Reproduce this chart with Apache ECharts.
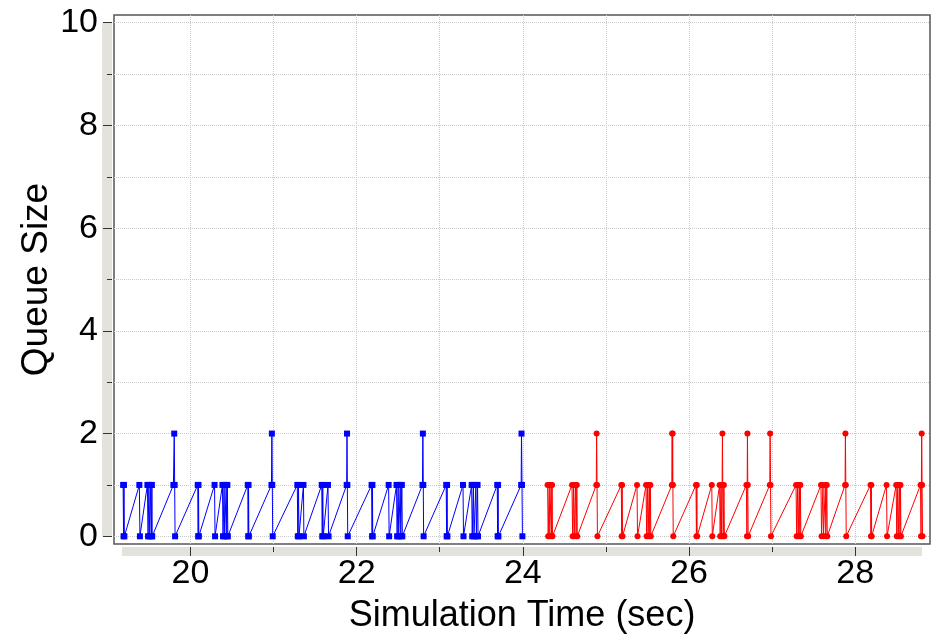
<!DOCTYPE html>
<html>
<head>
<meta charset="utf-8">
<script src="https://cdn.jsdelivr.net/npm/echarts@6/dist/echarts.min.js"></script>
<style>
  html, body { margin: 0; padding: 0; background: #fff; }
  #main { width: 933px; height: 637px; }
</style>
</head>
<body>
<div id="main"></div>
<script>
// queue trace, first link (blue)
let blueTime = [
  19.190, 19.195, 19.200, 19.205,
  19.385, 19.392,
  19.482, 19.490, 19.500, 19.510, 19.522, 19.530, 19.536, 19.540,
  19.795, 19.805, 19.810, 19.815,
  20.088, 20.093, 20.097, 20.101,
  20.290, 20.296,
  20.385, 20.392, 20.405, 20.412, 20.430, 20.437, 20.444, 20.450,
  20.690, 20.695, 20.699, 20.703,
  20.975, 20.980, 20.985, 20.990,
  21.286, 21.292, 21.300, 21.306, 21.360, 21.365,
  21.580, 21.586, 21.592, 21.598, 21.655, 21.662,
  21.880, 21.884, 21.888, 21.893,
  22.180, 22.186, 22.190, 22.194,
  22.385, 22.391,
  22.480, 22.487, 22.500, 22.506, 22.525, 22.531, 22.544, 22.550,
  22.792, 22.797, 22.802, 22.806,
  23.078, 23.083, 23.088, 23.092,
  23.280, 23.286,
  23.384, 23.391, 23.405, 23.412, 23.435, 23.441, 23.455, 23.461,
  23.692, 23.697, 23.702, 23.706,
  23.980, 23.984, 23.990, 23.995
]
let blueQueue = [
  1, 0, 1, 0,
  1, 0,
  1, 0, 1, 0, 1, 0, 1, 0,
  1, 2, 1, 0,
  1, 0, 1, 0,
  1, 0,
  1, 0, 1, 0, 1, 0, 1, 0,
  1, 0, 1, 0,
  1, 2, 1, 0,
  1, 0, 1, 0, 1, 0,
  1, 0, 1, 0, 1, 0,
  1, 2, 1, 0,
  1, 0, 1, 0,
  1, 0,
  1, 0, 1, 0, 1, 0, 1, 0,
  1, 2, 1, 0,
  1, 0, 1, 0,
  1, 0,
  1, 0, 1, 0, 1, 0, 1, 0,
  1, 0, 1, 0,
  1, 2, 1, 0
]

// queue trace, second link (red)
let redTime = [
  24.298, 24.305, 24.318, 24.324, 24.340, 24.346, 24.352, 24.357,
  24.592, 24.599, 24.612, 24.618, 24.635, 24.641, 24.650, 24.656,
  24.884, 24.888, 24.893, 24.898,
  25.185, 25.190, 25.195, 25.200,
  25.374, 25.380,
  25.483, 25.490, 25.502, 25.508, 25.522, 25.528, 25.535, 25.540,
  25.794, 25.797, 25.800, 25.803, 25.806, 25.810,
  26.084, 26.089, 26.094, 26.098,
  26.274, 26.280,
  26.368, 26.375, 26.385, 26.392, 26.398, 26.402, 26.406, 26.412, 26.420, 26.426,
  26.690, 26.697, 26.700, 26.703, 26.707, 26.712,
  26.972, 26.976, 26.981, 26.986,
  27.288, 27.295, 27.308, 27.314, 27.328, 27.334, 27.340, 27.346,
  27.588, 27.595, 27.612, 27.618, 27.640, 27.646, 27.658, 27.664,
  27.878, 27.882, 27.887, 27.892,
  28.184, 28.189, 28.194, 28.198,
  28.377, 28.383,
  28.493, 28.500, 28.512, 28.518, 28.533, 28.539, 28.545, 28.550,
  28.786, 28.792, 28.796, 28.800, 28.805, 28.810
]
let redQueue = [
  1, 0, 1, 0, 1, 0, 1, 0,
  1, 0, 1, 0, 1, 0, 1, 0,
  1, 2, 1, 0,
  1, 0, 1, 0,
  1, 0,
  1, 0, 1, 0, 1, 0, 1, 0,
  1, 2, 1, 2, 1, 0,
  1, 0, 1, 0,
  1, 0,
  1, 0, 1, 0, 1, 2, 1, 0, 1, 0,
  1, 0, 1, 2, 1, 0,
  1, 2, 1, 0,
  1, 0, 1, 0, 1, 0, 1, 0,
  1, 0, 1, 0, 1, 0, 1, 0,
  1, 2, 1, 0,
  1, 0, 1, 0,
  1, 0,
  1, 0, 1, 0, 1, 0, 1, 0,
  1, 0, 1, 2, 1, 0
]

// axis ticks
let xTicks = [20, 21, 22, 23, 24, 25, 26, 27, 28]
let xLabels = [20, 22, 24, 26, 28]
let yTicks = [0, 1, 2, 3, 4, 5, 6, 7, 8, 9, 10]
let yLabels = [0, 2, 4, 6, 8, 10]

function pairs(ts, qs) {
  let out = []
  for (let i = 0; i < ts.length; i++) out.push([ts[i], qs[i]])
  return out
}

var chart = echarts.init(document.getElementById('main'))

var xMin = 19.08, xMax = 28.9
var yMin = -0.15, yMax = 10.15
var font = 'Liberation Sans, Arial, Helvetica, sans-serif'
var tickStyle = { color: '#333', width: 1 }
var gridStyle = { color: '#c8c8c8', type: [1, 1], width: 1 }

// three axes per direction: dotted grid (under the data), minor ticks, major ticks + labels
function xAxes() {
  let base = { type: 'value', min: xMin, max: xMax, position: 'bottom', offset: 3,
    axisLine: { show: false, onZero: false }, splitLine: { show: false } }
  return [
    Object.assign({}, base, {
      z: 0, axisTick: { show: false, customValues: xTicks }, axisLabel: { show: false },
      splitLine: { show: true, lineStyle: gridStyle }
    }),
    Object.assign({}, base, {
      z: 5, axisTick: { show: true, customValues: xTicks, length: 5, lineStyle: tickStyle },
      axisLabel: { show: false }
    }),
    Object.assign({}, base, {
      z: 5, axisTick: { show: true, customValues: xLabels, length: 9, lineStyle: tickStyle },
      axisLabel: { customValues: xLabels, fontSize: 34, color: '#000', fontFamily: font, margin: 10 },
      name: 'Simulation Time (sec)', nameLocation: 'middle', nameGap: 51, nameMoveOverlap: false,
      nameTextStyle: { fontSize: 36, color: '#000', fontFamily: font }
    })
  ]
}

function yAxes() {
  let base = { type: 'value', min: yMin, max: yMax, position: 'left', offset: 2,
    axisLine: { show: false, onZero: false }, splitLine: { show: false } }
  return [
    Object.assign({}, base, {
      z: 0, axisTick: { show: false, customValues: yTicks }, axisLabel: { show: false },
      splitLine: { show: true, lineStyle: gridStyle }
    }),
    Object.assign({}, base, {
      z: 5, axisTick: { show: true, customValues: yTicks, length: 5, lineStyle: tickStyle },
      axisLabel: { show: false }
    }),
    Object.assign({}, base, {
      z: 5, axisTick: { show: true, customValues: yLabels, length: 9, lineStyle: tickStyle },
      axisLabel: { customValues: yLabels, fontSize: 34, color: '#000', fontFamily: font, margin: 14 },
      name: 'Queue Size', nameLocation: 'middle', nameGap: 57, nameRotate: 90, nameMoveOverlap: false,
      nameTextStyle: { fontSize: 37, color: '#000', fontFamily: font }
    })
  ]
}

var option = {
  animation: false,
  backgroundColor: '#fff',
  grid: {
    left: 114, right: 3, top: 15, bottom: 93,
    outerBoundsMode: 'none', containLabel: false,
    show: true, borderColor: '#555', borderWidth: 1.5, backgroundColor: '#fff'
  },
  graphic: [
    // range strips beside the axes
    { type: 'rect', silent: true, z: 1, shape: { x: 122, y: 547, width: 800, height: 9 },
      style: { fill: '#e4e2dc' } },
    { type: 'rect', silent: true, z: 1, shape: { x: 102, y: 23, width: 10, height: 513 },
      style: { fill: '#e4e2dc' } }
  ],
  xAxis: xAxes(),
  yAxis: yAxes(),
  series: [
    {
      name: 'link 1', type: 'line', data: pairs(blueTime, blueQueue), z: 3,
      symbol: 'rect', symbolSize: 6, showAllSymbol: true,
      lineStyle: { color: '#0000ff', width: 1 },
      itemStyle: { color: '#0000ff', borderWidth: 0 }
    },
    {
      name: 'link 2', type: 'line', data: pairs(redTime, redQueue), z: 3,
      symbol: 'circle', symbolSize: 6, showAllSymbol: true,
      lineStyle: { color: '#ff0000', width: 1 },
      itemStyle: { color: '#ff0000', borderWidth: 0 }
    }
  ]
}

chart.setOption(option)
</script>
</body>
</html>
